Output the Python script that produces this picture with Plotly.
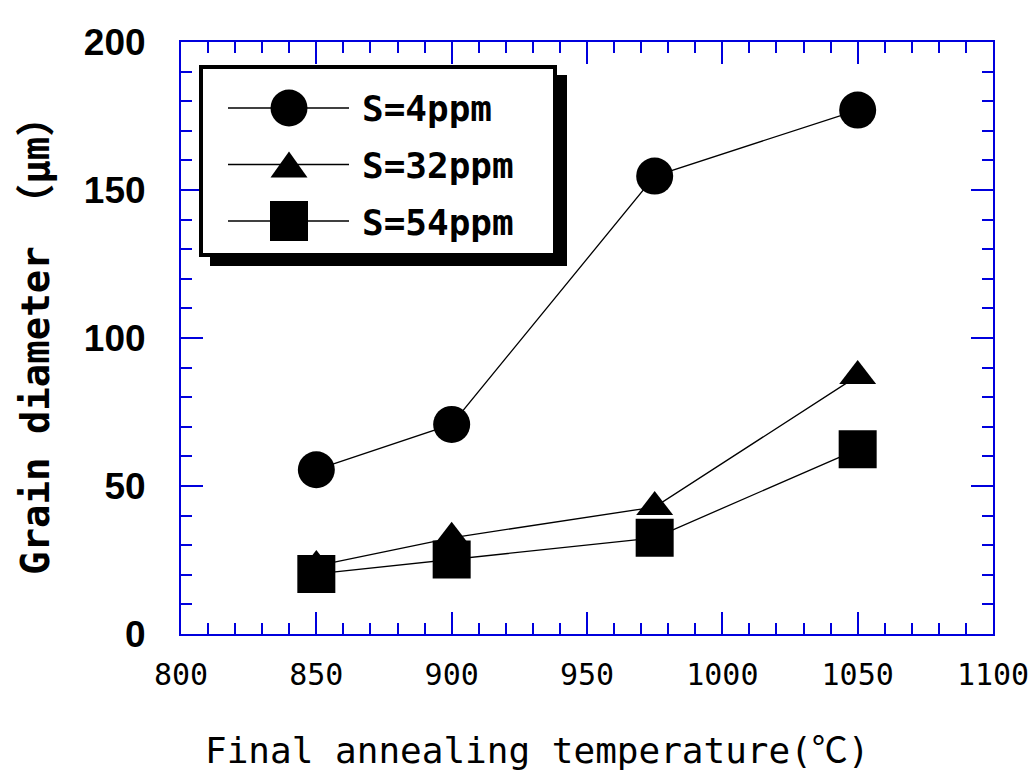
import plotly.graph_objects as go

# ---- data ----
temps = [850, 900, 975, 1050]
s4 = [55.5, 70.8, 154.7, 177.0]
s32 = [23.0, 32.5, 42.9, 87.2]
s54 = [20.3, 25.2, 32.5, 62.4]
series_names = ["S=4ppm", "S=32ppm", "S=54ppm"]
x_ticks = [800, 850, 900, 950, 1000, 1050, 1100]
y_ticks = [0, 50, 100, 150, 200]

W, H = 1032, 775
L, R, T, B = 181, 993, 42, 634
BLUE = "#0000dd"


def px(x):
    return (x - L) / (R - L)


def py(y):
    return (B - y) / (B - T)


fig = go.Figure()
line_style = dict(color="black", width=1.3)
fig.add_trace(go.Scatter(x=temps, y=s4, mode="lines+markers", name=series_names[0],
                         line=line_style,
                         marker=dict(symbol="circle", size=37, color="black", line=dict(width=0))))
fig.add_trace(go.Scatter(x=temps, y=s32, mode="lines+markers", name=series_names[1],
                         line=line_style,
                         marker=dict(symbol="triangle-up", size=32, color="black", line=dict(width=0))))
fig.add_trace(go.Scatter(x=temps, y=s54, mode="lines+markers", name=series_names[2],
                         line=line_style,
                         marker=dict(symbol="square", size=38, color="black", line=dict(width=0))))

shapes = []
# legend shadow and box
shapes.append(dict(type="rect", xref="paper", yref="paper", x0=px(210), x1=px(567),
                   y0=py(266), y1=py(75), fillcolor="black", line=dict(width=0), layer="above"))
shapes.append(dict(type="rect", xref="paper", yref="paper", x0=px(201), x1=px(555),
                   y0=py(255), y1=py(67), fillcolor="white", line=dict(color="black", width=4),
                   layer="above"))
leg_y = [108, 164.5, 221]
for yy in leg_y:
    shapes.append(dict(type="line", xref="paper", yref="paper", x0=px(228), x1=px(349),
                       y0=py(yy), y1=py(yy), line=dict(color="black", width=1.3), layer="above"))
mx = px(289)
shapes.append(dict(type="circle", xref="paper", yref="paper", xsizemode="pixel", ysizemode="pixel",
                   xanchor=mx, yanchor=py(leg_y[0]), x0=-18.5, x1=18.5, y0=-18.5, y1=18.5,
                   fillcolor="black", line=dict(width=0), layer="above"))
shapes.append(dict(type="path", xref="paper", yref="paper", xsizemode="pixel", ysizemode="pixel",
                   xanchor=mx, yanchor=py(leg_y[1]), path="M-18.5,-13 L18.5,-13 L0,13 Z",
                   fillcolor="black", line=dict(width=0), layer="above"))
shapes.append(dict(type="rect", xref="paper", yref="paper", xsizemode="pixel", ysizemode="pixel",
                   xanchor=mx, yanchor=py(leg_y[2]), x0=-19, x1=19, y0=-20, y1=20,
                   fillcolor="black", line=dict(width=0), layer="above"))

annotations = []
for name, yy in zip(series_names, leg_y):
    annotations.append(dict(text=name, xref="paper", yref="paper", x=px(360), y=py(yy + 1),
                            xanchor="left", yanchor="middle", showarrow=False,
                            font=dict(family="DejaVu Sans Mono", size=36,
                                      color="black", weight="bold")))
# axis titles
annotations.append(dict(text="Final annealing temperature(℃)", xref="paper", yref="paper",
                        x=px(537), y=py(750), xanchor="center", yanchor="middle", showarrow=False,
                        font=dict(family="DejaVu Sans Mono, Noto Sans CJK JP", size=36, color="black")))
annotations.append(dict(text="Grain diameter （μm）", xref="paper", yref="paper",
                        x=px(35), y=py(337), xanchor="center", yanchor="middle", showarrow=False,
                        textangle=-90,
                        font=dict(family="DejaVu Sans Mono, Noto Sans CJK JP", size=39, color="black",
                                  weight="bold")))

axis_common = dict(showline=True, linecolor=BLUE, linewidth=2, mirror="ticks", ticks="inside",
                   tickcolor=BLUE, tickwidth=1.5, ticklen=22, showgrid=False, zeroline=False,
                   automargin=False)
fig.update_layout(
    width=W, height=H,
    margin=dict(l=L, r=W - R, t=T, b=H - B),
    paper_bgcolor="white", plot_bgcolor="white",
    showlegend=False,
    xaxis=dict(range=[800, 1100], tickvals=x_ticks, ticktext=[str(v) for v in x_ticks],
               minor=dict(ticks="inside", ticklen=11, dtick=10, tickcolor=BLUE, tickwidth=1.5, showgrid=False),
               tickfont=dict(family="DejaVu Sans Mono", size=30, color="black"),
               ticklabelstandoff=13, **axis_common),
    yaxis=dict(range=[0, 200], tickvals=y_ticks, ticktext=[str(v) for v in y_ticks],
               minor=dict(ticks="inside", ticklen=11, dtick=10, tickcolor=BLUE, tickwidth=1.5, showgrid=False),
               tickfont=dict(family="Liberation Sans, Arial", size=37, color="black", weight="bold"),
               ticklabelstandoff=26, **axis_common),
    shapes=shapes,
    annotations=annotations,
)

fig.write_html("out.html")
